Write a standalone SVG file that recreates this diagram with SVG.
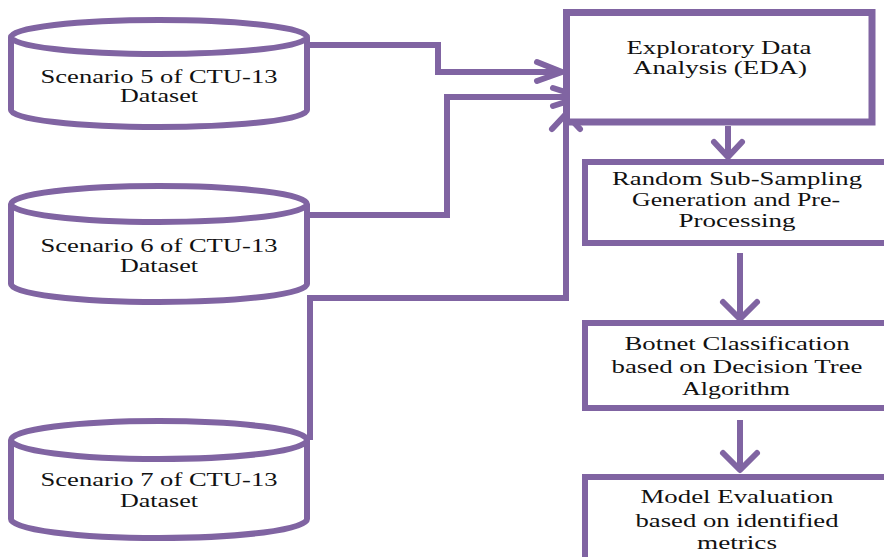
<svg xmlns="http://www.w3.org/2000/svg" width="884" height="557" viewBox="0 0 884 557">
<style>
.shape{fill:#fff;stroke:#8064A2;stroke-width:6}
.line{fill:none;stroke:#8064A2;stroke-width:6;stroke-linejoin:miter}
.head{fill:none;stroke:#8064A2;stroke-width:6;stroke-linecap:round;stroke-linejoin:round}
.t{font-size:18px;fill:#111;text-anchor:middle}
</style>
<rect width="884" height="557" fill="#fff"/>
<g id="connectors">
<polyline class="line" points="307,45 438,45 438,72 560,72"/>
<polyline class="head" points="537,62 562,72 537,81"/>
<polyline class="line" points="307,215 447,215 447,97 579,97"/>
<polyline class="head" points="553,88 581,97 553,106"/>
<polyline class="line" points="310,440 310,298 566,298 566,116"/>
<polyline class="head" points="552,129 566,114 580,129"/>
<line class="line" x1="728" y1="126" x2="728" y2="155"/>
<polyline class="head" points="714,142 728,157 742,142"/>
<line class="line" x1="740" y1="253" x2="740" y2="317"/>
<polyline class="head" points="723,302 740,319 757,302"/>
<line class="line" x1="740" y1="420" x2="740" y2="468"/>
<polyline class="head" points="723,453 740,470 757,453"/>
</g>
<g font-family="'Liberation Serif', 'Times New Roman', Times, serif">
<g id="cyl5">
<path class="shape" d="M11,37 V110 A148,17 0 0 0 307,110 V37"/>
<ellipse class="shape" cx="159" cy="37" rx="148" ry="17"/>
<text class="t" x="159" y="83" textLength="237" lengthAdjust="spacingAndGlyphs">Scenario 5 of CTU-13</text>
<text class="t" x="159" y="102" textLength="78" lengthAdjust="spacingAndGlyphs">Dataset</text>
</g>
<g id="cyl6">
<path class="shape" d="M11,204 V284 A148,18 0 0 0 307,284 V204"/>
<ellipse class="shape" cx="159" cy="204" rx="148" ry="18"/>
<text class="t" x="159" y="252" textLength="237" lengthAdjust="spacingAndGlyphs">Scenario 6 of CTU-13</text>
<text class="t" x="159" y="272" textLength="78" lengthAdjust="spacingAndGlyphs">Dataset</text>
</g>
<g id="cyl7">
<path class="shape" d="M11,440 V519 A148,19 0 0 0 307,519 V440"/>
<ellipse class="shape" cx="159" cy="440" rx="148" ry="19"/>
<text class="t" x="159" y="486" textLength="237" lengthAdjust="spacingAndGlyphs">Scenario 7 of CTU-13</text>
<text class="t" x="159" y="507" textLength="78" lengthAdjust="spacingAndGlyphs">Dataset</text>
</g>
<g id="eda">
<rect class="shape" x="566.5" y="12.5" width="305.5" height="109.5" style="stroke-width:7"/>
<text class="t" x="719" y="54" textLength="185" lengthAdjust="spacingAndGlyphs">Exploratory Data</text>
<text class="t" x="720" y="74" textLength="174" lengthAdjust="spacingAndGlyphs">Analysis (EDA)</text>
</g>
<g id="sampling">
<rect class="shape" x="585" y="162" width="310" height="81"/>
<text class="t" x="737" y="185" textLength="250" lengthAdjust="spacingAndGlyphs">Random Sub-Sampling</text>
<text class="t" x="736" y="206" textLength="208" lengthAdjust="spacingAndGlyphs">Generation and Pre-</text>
<text class="t" x="737" y="227" textLength="117" lengthAdjust="spacingAndGlyphs">Processing</text>
</g>
<g id="classification">
<rect class="shape" x="585" y="323" width="310" height="85"/>
<text class="t" x="737" y="350" textLength="225" lengthAdjust="spacingAndGlyphs">Botnet Classification</text>
<text class="t" x="737" y="373" textLength="251" lengthAdjust="spacingAndGlyphs">based on Decision Tree</text>
<text class="t" x="736" y="395" textLength="108" lengthAdjust="spacingAndGlyphs">Algorithm</text>
</g>
<g id="evaluation">
<rect class="shape" x="585" y="477" width="310" height="100"/>
<text class="t" x="737" y="503" textLength="193" lengthAdjust="spacingAndGlyphs">Model Evaluation</text>
<text class="t" x="737" y="527" textLength="203" lengthAdjust="spacingAndGlyphs">based on identified</text>
<text class="t" x="737" y="549" textLength="80" lengthAdjust="spacingAndGlyphs">metrics</text>
</g>
</g>
</svg>
